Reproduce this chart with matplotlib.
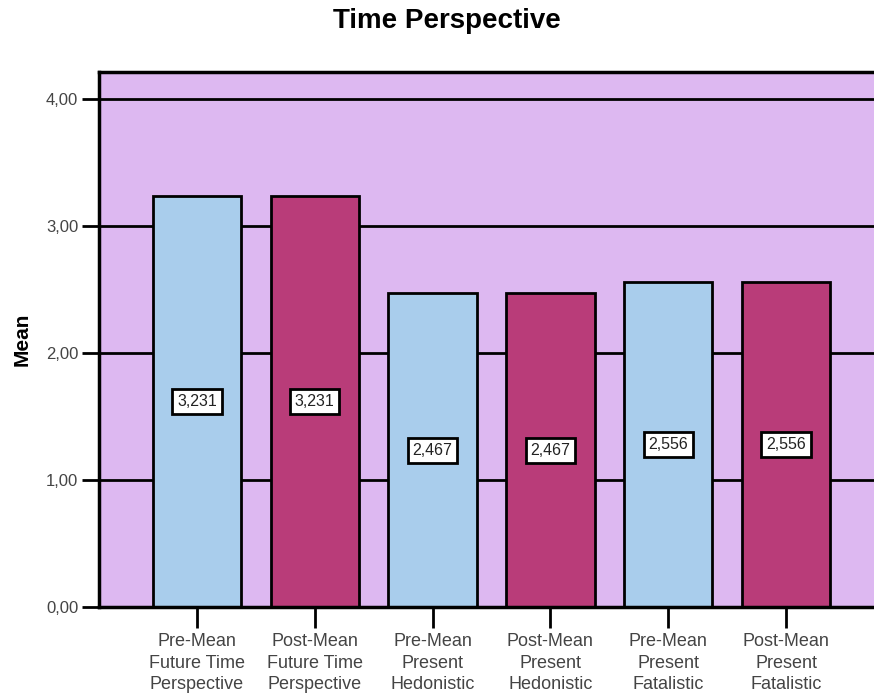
import matplotlib.pyplot as plt
import numpy as np

plt.rcParams['font.family'] = ['Liberation Sans', 'DejaVu Sans']

# data
categories = ["Pre-Mean\nFuture Time\nPerspective", "Post-Mean\nFuture Time\nPerspective",
              "Pre-Mean\nPresent\nHedonistic", "Post-Mean\nPresent\nHedonistic",
              "Pre-Mean\nPresent\nFatalistic", "Post-Mean\nPresent\nFatalistic"]
means = [3.231, 3.231, 2.467, 2.467, 2.556, 2.556]
yticks = [0, 1, 2, 3, 4]
ytick_labels = ["0,00", "1,00", "2,00", "3,00", "4,00"]

pre_col = "#A9CDEC"
post_col = "#B93C79"
bg_col = "#DDB8F1"
cols = [pre_col if i % 2 == 0 else post_col for i in range(len(means))]

fig = plt.figure(figsize=(8.74, 6.94), dpi=100)
ax = fig.add_axes([99 / 874, 87 / 694, 786 / 874, 535 / 694])
ax.set_facecolor(bg_col)

x = np.arange(len(means))
for yv in yticks[1:]:
    ax.axhline(yv, color="black", lw=2, zorder=1)
ax.bar(x, means, width=0.75, color=cols, edgecolor="black", linewidth=2, zorder=2)

# value labels in the middle of the bars
for xi, m in zip(x, means):
    ax.text(xi, m / 2, f"{m:.3f}".replace(".", ","), ha="center", va="center",
            fontsize=11.5, color="#222222", zorder=3,
            bbox=dict(boxstyle="square,pad=0.3", fc="white", ec="black", lw=2))

ax.set_xlim(-0.832, 5.84)
ax.set_ylim(0, 4.21)
ax.set_xticks(x)
ax.set_xticklabels(categories, fontsize=13, color="#444444", linespacing=1.32)
ax.set_yticks(yticks)
ax.set_yticklabels(ytick_labels, fontsize=12, color="#444444")
ax.tick_params(axis="y", length=12, width=2, pad=3)
ax.tick_params(axis="x", length=15, width=2, pad=4)
for s in ax.spines.values():
    s.set_linewidth(2.5)

ax.set_ylabel("Mean", fontsize=15, fontweight="bold", labelpad=10)
fig.text(447 / 874, 1 - 21 / 694, "Time Perspective", ha="center", va="center",
         fontsize=20, fontweight="bold")

fig.savefig("out.png", dpi=100)
